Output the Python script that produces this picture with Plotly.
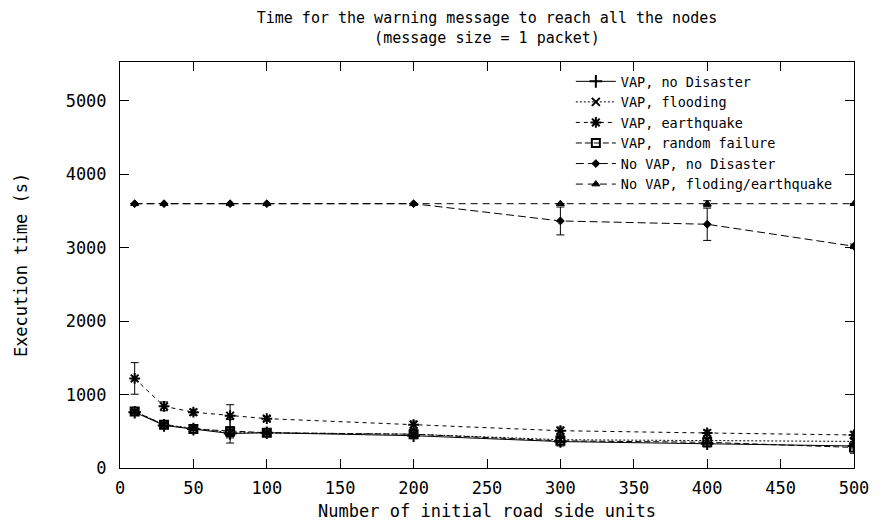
import plotly.graph_objects as go

# ---- data ----
x_vap = [10, 30, 50, 75, 100, 200, 300, 400, 500]
x_novap = [10, 30, 75, 100, 200, 300, 400, 500]

vap_no_disaster = [760, 580, 530, 470, 480, 440, 360, 330, 300]
vap_no_disaster_err = [20, 20, 20, 60, 15, 30, 40, 40, 40]

vap_flooding = [770, 590, 540, 480, 480, 460, 385, 376, 362]
vap_flooding_err = [20, 20, 20, 50, 15, 30, 40, 40, 40]

vap_earthquake = [1220, 840, 760, 712, 672, 590, 508, 477, 450]
vap_earthquake_err = [215, 60, 40, 150, 30, 50, 50, 40, 50]

vap_random = [770, 590, 530, 500, 480, 460, 370, 350, 280]
vap_random_err = [20, 20, 20, 160, 15, 60, 70, 60, 80]

novap_no_disaster = [3600, 3600, 3600, 3600, 3600, 3365, 3320, 3020]
novap_no_disaster_err = [0, 0, 0, 0, 0, 190, 220, 30]

novap_flood = [3600, 3600, 3600, 3600, 3600, 3600, 3600, 3600]
novap_flood_err = [0, 0, 0, 0, 0, 0, 40, 0]

x_ticks = [0, 50, 100, 150, 200, 250, 300, 350, 400, 450, 500]
y_ticks = [0, 1000, 2000, 3000, 4000, 5000]

FONT = "DejaVu Sans Mono"

series = [
    ("VAP, no Disaster", x_vap, vap_no_disaster, vap_no_disaster_err, "solid", "cross-thin-open", 9),
    ("VAP, flooding", x_vap, vap_flooding, vap_flooding_err, "2px,2px", "x-thin-open", 8),
    ("VAP, earthquake", x_vap, vap_earthquake, vap_earthquake_err, "4px,4px", "asterisk-open", 9),
    ("VAP, random failure", x_vap, vap_random, vap_random_err, "6px,3px", "square-open", 8),
    ("No VAP, no Disaster", x_novap, novap_no_disaster, novap_no_disaster_err, "8px,4px", "diamond", 6),
    ("No VAP, floding/earthquake", x_novap, novap_flood, novap_flood_err, "7px,5px", "triangle-up", 7),
]

fig = go.Figure()
for name, xs, ys, es, dash, sym, size in series:
    fig.add_trace(go.Scatter(
        x=xs, y=ys, name=name, mode="lines+markers",
        line=dict(color="black", width=1, dash=dash),
        marker=dict(symbol=sym, size=size, color="black",
                    line=dict(color="black", width=2 if "open" in sym else 1)),
        error_y=dict(type="data", array=es, visible=True, color="black",
                     thickness=1, width=4),
    ))

# page body has an 8px margin, so the figure is sized to the visible area
fig.update_layout(
    width=872, height=520,
    paper_bgcolor="white", plot_bgcolor="white",
    margin=dict(l=112, r=26, t=54, b=60, autoexpand=False),
    font=dict(family=FONT, size=17, color="black"),
    title=dict(
        text="Time for the warning message to reach all the nodes<br>(message size = 1 packet)",
        x=0.5, xref="paper", xanchor="center",
        y=0.971, yref="container", yanchor="middle",
        font=dict(family=FONT, size=15, color="black"),
    ),
    legend=dict(
        x=0.978, xanchor="right", y=0.99, yanchor="top",
        bgcolor="rgba(0,0,0,0)", borderwidth=0,
        font=dict(family=FONT, size=13.5, color="black"),
        tracegroupgap=0, itemwidth=40,
    ),
    showlegend=True,
)

fig.update_xaxes(
    range=[0, 500], tickvals=x_ticks, ticktext=[str(v) for v in x_ticks],
    ticks="inside", ticklen=9, tickcolor="black", tickwidth=1,
    showline=True, linecolor="black", linewidth=1, mirror="allticks",
    showgrid=False, zeroline=False, ticklabelstandoff=5,
    title=dict(text="Number of initial road side units", standoff=7,
               font=dict(family=FONT, size=17)),
)
fig.update_yaxes(
    range=[0, 5530], tickvals=y_ticks, ticktext=[str(v) for v in y_ticks],
    ticks="inside", ticklen=9, tickcolor="black", tickwidth=1,
    showline=True, linecolor="black", linewidth=1, mirror="allticks",
    showgrid=False, zeroline=False, ticklabelstandoff=9,
    title=dict(text="Execution time (s)", standoff=33,
               font=dict(family=FONT, size=17)),
)

fig.write_html("out.html")
